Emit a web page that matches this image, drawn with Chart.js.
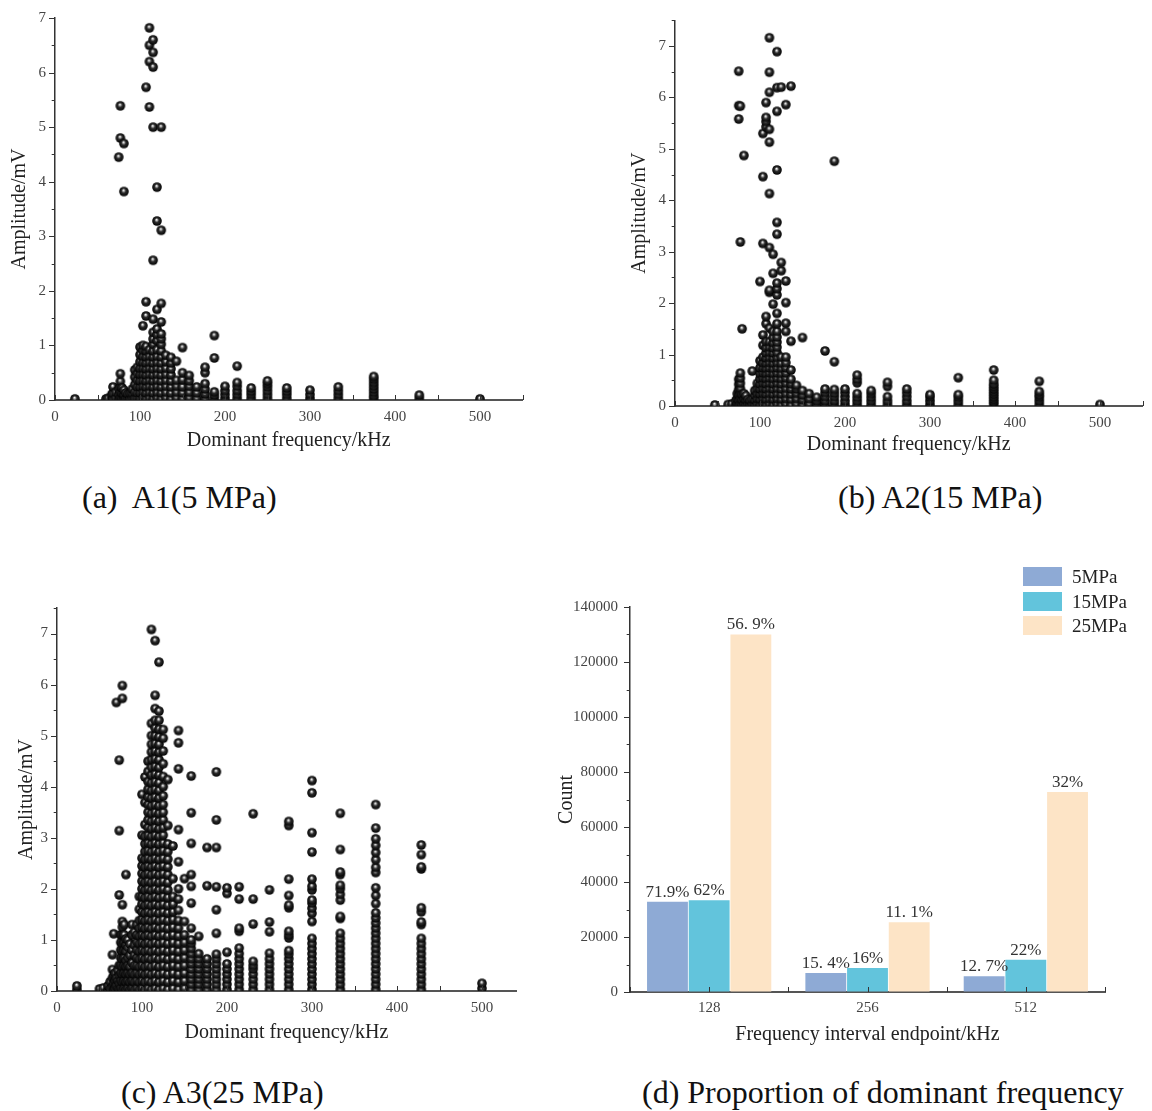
<!DOCTYPE html>
<html><head><meta charset="utf-8">
<script src="https://cdn.jsdelivr.net/npm/chart.js@4.4.1/dist/chart.umd.min.js"></script>
<style>
html,body{margin:0;padding:0;background:#fff;}
body{width:1152px;height:1111px;position:relative;overflow:hidden;font-family:'Liberation Serif','Times New Roman',serif;}
canvas{position:absolute;}
.cap{position:absolute;font-size:32px;line-height:32px;white-space:pre;color:#111;}
.leg{position:absolute;font-size:19px;line-height:19px;color:#222;}
.box{position:absolute;width:39px;height:19px;}
</style></head><body>
<canvas id="ca" width="540" height="470" style="left:0;top:0"></canvas>
<canvas id="cb" width="532" height="470" style="left:620px;top:0"></canvas>
<canvas id="cc" width="540" height="470" style="left:0;top:590px"></canvas>
<canvas id="cd" width="612" height="500" style="left:540px;top:560px"></canvas>

<div class="cap" style="left:82px;top:481px">(a)  A1(5 MPa)</div>
<div class="cap" style="left:838px;top:481px">(b) A2(15 MPa)</div>
<div class="cap" style="left:121px;top:1076px">(c) A3(25 MPa)</div>
<div class="cap" style="left:642px;top:1076px">(d) Proportion of dominant frequency</div>

<div class="box" style="left:1023px;top:567px;background:#8EAAD5"></div>
<div class="leg" style="left:1072px;top:567px">5MPa</div>
<div class="box" style="left:1023px;top:592px;background:#62C4DC"></div>
<div class="leg" style="left:1072px;top:592px">15MPa</div>
<div class="box" style="left:1023px;top:616px;background:#FDE4C6"></div>
<div class="leg" style="left:1072px;top:616px">25MPa</div>

<script>
// ---------------- DATA ----------------
const xTitle = 'Dominant frequency/kHz';
const yTitle = 'Amplitude/mV';

// Panel (a) A1 5 MPa : dominant frequency columns and amplitudes
const a1Freq = [23.4, 60, 62.5, 66.7, 68.2, 71.4, 75, 76.9, 78.9, 81.1, 83.3, 85.7, 88.2, 90.9, 93.8, 96.8, 100, 103.4, 107.1, 111.1, 115.4, 120, 125, 130.4, 136.4, 142.9, 150, 157.9, 166.7, 176.5, 187.5, 200, 214.3, 230.8, 250, 272.7, 300, 333.3, 375, 428.6, 500];
const a1Amp = [
  [0.02], [0.02], [0.03], [0.04,0.1], [0.03,0.12,0.24], [0.04,0.14],
  [0.03,0.1,0.2,4.45],
  [0.04,0.14,0.24,0.34,0.48,4.8,5.39],
  [0.03,0.12,0.22],
  [0.04,0.1,0.18,3.82,4.7],
  [0.03,0.13], [0.04,0.11], [0.03,0.12], [0.04,0.12,0.2],
  [0.03,0.14,0.28,0.42,0.55],
  [0.04,0.13,0.24,0.36,0.48,0.6],
  [0.03,0.13,0.24,0.35,0.47,0.58,0.7,0.83,0.97],
  [0.04,0.14,0.25,0.36,0.47,0.58,0.69,0.8,0.91,1.0,1.36],
  [0.03,0.13,0.24,0.35,0.46,0.57,0.68,0.79,0.9,0.98,1.54,1.8,5.73],
  [0.04,0.14,0.25,0.36,0.47,0.58,0.69,0.8,0.92,5.37,6.2,6.5,6.82],
  [0.03,0.13,0.24,0.35,0.46,0.57,0.68,0.79,0.9,1.02,1.12,1.24,1.48,2.56,5.0,6.1,6.37,6.6],
  [0.04,0.14,0.25,0.36,0.47,0.58,0.69,0.8,0.92,1.09,1.2,1.3,1.66,3.28,3.9],
  [0.03,0.13,0.24,0.35,0.46,0.57,0.68,0.79,0.9,1.02,1.12,1.21,1.43,1.77,3.11,5.0],
  [0.04,0.14,0.25,0.36,0.47,0.58,0.7,0.82],
  [0.03,0.13,0.24,0.35,0.46,0.57,0.68,0.78],
  [0.04,0.14,0.25,0.36,0.71],
  [0.03,0.13,0.24,0.37,0.5,0.96],
  [0.04,0.14,0.25,0.35,0.45],
  [0.03,0.13,0.24],
  [0.03,0.11,0.2,0.3,0.5,0.6],
  [0.03,0.09,0.15,0.77,1.18],
  [0.03,0.1,0.17,0.25],
  [0.03,0.1,0.17,0.25,0.32,0.62],
  [0.03,0.1,0.16,0.22],
  [0.03,0.1,0.17,0.24,0.3,0.35],
  [0.03,0.1,0.16,0.22],
  [0.03,0.1,0.18],
  [0.03,0.1,0.17,0.24],
  [0.03,0.08,0.14,0.2,0.26,0.32,0.38,0.43],
  [0.03,0.09],
  [0.02]
];

// Panel (b) A2 15 MPa
const a2Freq = [46.9, 62.5, 66.7, 71.4, 73.2, 75, 76.9, 78.9, 81.1, 83.3, 85.7, 88.2, 90.9, 93.8, 96.8, 100, 103.4, 107.1, 111.1, 115.4, 120, 125, 130.4, 136.4, 142.9, 150, 157.9, 166.7, 176.5, 187.5, 200, 214.3, 230.8, 250, 272.7, 300, 333.3, 375, 428.6, 500];
const a2Amp = [
  [0.02], [0.03], [0.04], [0.03,0.1], [0.04,0.14,0.24],
  [0.03,0.12,0.22,0.32,0.42,0.52,5.58,5.84,6.51],
  [0.04,0.14,0.24,0.34,0.44,0.54,0.64,3.19,5.83],
  [0.03,0.12,0.22,1.5],
  [0.04,0.14,0.24,4.87],
  [0.03,0.12,0.2], [0.04,0.13], [0.03,0.11], [0.04,0.13,0.68],
  [0.03,0.12,0.21,0.3],
  [0.04,0.14,0.24,0.34,0.44],
  [0.03,0.13,0.23,0.33,0.43,0.53,0.63,0.74,0.88,2.42],
  [0.04,0.14,0.24,0.34,0.44,0.54,0.64,0.74,0.84,0.95,1.18,1.38,3.16,4.46,5.3],
  [0.03,0.13,0.23,0.33,0.43,0.53,0.63,0.73,0.83,0.93,1.03,1.13,1.25,1.6,1.74,5.43,5.53,5.61,5.9],
  [0.04,0.14,0.24,0.34,0.44,0.54,0.64,0.74,0.84,0.94,1.04,1.14,1.25,1.51,2.21,2.25,3.08,4.13,5.13,5.38,6.1,6.49,7.16],
  [0.03,0.13,0.23,0.33,0.43,0.53,0.63,0.73,0.83,0.93,1.03,1.13,1.23,1.33,1.45,1.98,2.58,2.95],
  [0.04,0.14,0.24,0.34,0.44,0.54,0.64,0.74,0.84,0.94,1.04,1.14,1.24,1.34,1.45,1.6,1.8,2.16,2.28,2.39,3.34,3.57,4.59,5.73,6.19,6.89],
  [0.03,0.13,0.23,0.33,0.43,0.53,0.63,0.73,0.83,0.95,2.63,2.79,6.2],
  [0.04,0.14,0.24,0.34,0.44,0.54,0.64,0.74,0.84,0.95,1.45,1.61,2.01,2.43,5.86],
  [0.03,0.13,0.23,0.33,0.43,0.52,0.7,1.26,6.22],
  [0.04,0.14,0.24,0.33,0.4],
  [0.03,0.12,0.21,0.3,1.33],
  [0.04,0.14,0.24],
  [0.03,0.1,0.17],
  [0.03,0.1,0.18,0.26,0.33,1.07],
  [0.03,0.1,0.18,0.25,0.32,0.86,4.76],
  [0.03,0.1,0.18,0.26,0.33],
  [0.03,0.1,0.17,0.24,0.45,0.52,0.6],
  [0.03,0.1,0.17,0.24,0.3],
  [0.03,0.1,0.18,0.38,0.46],
  [0.03,0.1,0.18,0.26,0.33],
  [0.03,0.1,0.17,0.22],
  [0.03,0.1,0.17,0.22,0.55],
  [0.03,0.08,0.13,0.18,0.23,0.28,0.33,0.38,0.43,0.5,0.7],
  [0.03,0.1,0.17,0.22,0.28,0.48],
  [0.03]
];

// Panel (c) A3 25 MPa
const a3Freq = [23.4, 50, 54.5, 60, 62.5, 65.2, 66.7, 68.2, 69.8, 71.4, 73.2, 75, 76.9, 78.9, 81.1, 83.3, 85.7, 88.2, 90.9, 93.8, 96.8, 100, 103.4, 107.1, 111.1, 115.4, 120, 125, 130.4, 136.4, 142.9, 150, 157.9, 166.7, 176.5, 187.5, 200, 214.3, 230.8, 250, 272.7, 300, 333.3, 375, 428.6, 500];
const a3Amp = [
  [0.03,0.1], [0.04], [0.06], [0.03,0.1], [0.05,0.18],
  [0.08,0.25,0.42,0.71],
  [0.03,0.15,0.3,1.12],
  [0.05,0.2,0.35],
  [0.1,0.25,5.65],
  [0.05,0.2,0.4],
  [0.03,0.15,0.3,0.5,1.88,3.14,4.52],
  [0.05,0.2,0.35,0.5,0.65,0.8,0.95,1.1],
  [0.03,0.18,0.33,0.48,0.63,0.78,0.93,1.1,1.25,1.36,1.69,5.73,5.98],
  [0.05,0.2,0.35,0.5,0.65,0.8,0.95,1.1,1.3],
  [0.03,0.18,0.33,0.48,0.6,0.78,0.9,1.02,2.28],
  [0.05,0.2,0.35,0.5,0.65,0.85,1.0],
  [0.03,0.18,0.33,0.48,0.7,0.92],
  [0.05,0.2,0.35,0.55,0.8,1.1,1.3],
  [0.03,0.18,0.33,0.5,0.7,0.9,1.15],
  [0.05,0.2,0.35,0.5,0.65,0.8,0.95,1.1,1.3],
  [0.03,0.18,0.33,0.48,0.63,0.78,0.93,1.08,1.23,1.38,1.6,1.85],
  [0.05,0.2,0.35,0.5,0.65,0.8,0.95,1.1,1.25,1.4,1.55,1.7,1.85,2.0,2.15,2.3,2.45,2.6,3.05,3.85],
  [0.03,0.18,0.33,0.48,0.63,0.78,0.93,1.08,1.23,1.38,1.53,1.68,1.83,1.98,2.13,2.28,2.43,2.58,2.73,2.88,3.03,3.26,3.69,4.19],
  [0.05,0.2,0.35,0.5,0.65,0.8,0.95,1.1,1.25,1.4,1.55,1.7,1.85,2.0,2.15,2.3,2.45,2.6,2.75,2.9,3.05,3.2,3.35,3.5,3.65,3.8,3.95,4.1,4.3,4.5],
  [0.03,0.18,0.33,0.48,0.63,0.78,0.93,1.08,1.23,1.38,1.53,1.68,1.83,1.98,2.13,2.28,2.43,2.58,2.73,2.88,3.03,3.18,3.33,3.48,3.63,3.78,3.93,4.08,4.23,4.38,4.53,4.68,4.83,5.0,5.24,7.08],
  [0.05,0.2,0.35,0.5,0.65,0.8,0.95,1.1,1.25,1.4,1.55,1.7,1.85,2.0,2.15,2.3,2.45,2.6,2.75,2.9,3.05,3.2,3.35,3.5,3.65,3.8,3.95,4.1,4.25,4.4,4.55,4.7,4.85,5.0,5.15,5.3,5.53,5.79,6.86],
  [0.03,0.18,0.33,0.48,0.63,0.78,0.93,1.08,1.23,1.38,1.53,1.68,1.83,1.98,2.13,2.28,2.43,2.58,2.73,2.88,3.03,3.18,3.33,3.48,3.63,3.78,3.93,4.08,4.23,4.38,4.53,4.68,4.83,4.98,5.13,5.3,5.48,6.44],
  [0.05,0.2,0.35,0.5,0.65,0.8,0.95,1.1,1.25,1.4,1.55,1.7,1.85,2.0,2.15,2.3,2.45,2.6,2.75,2.9,3.05,3.2,3.35,3.5,3.65,3.82,4.0,4.2,4.45,4.7,4.95,5.12],
  [0.03,0.18,0.33,0.48,0.63,0.78,0.93,1.08,1.23,1.38,1.53,1.68,1.83,1.98,2.13,2.28,2.43,2.58,2.73,2.88,3.24,4.14],
  [0.05,0.2,0.35,0.5,0.65,0.8,0.95,1.1,1.25,1.4,1.55,1.7,1.85,2.2,2.84],
  [0.03,0.18,0.33,0.48,0.63,0.78,0.93,1.08,1.23,1.38,1.58,1.8,2.0,2.53,3.16,4.35,4.86,5.1],
  [0.05,0.2,0.35,0.5,0.65,0.8,0.95,1.1,1.36,2.2],
  [0.03,0.13,0.23,0.33,0.43,0.53,0.63,0.73,0.83,0.93,1.0,1.23,1.72,2.05,2.28,2.89,3.49,4.21],
  [0.03,0.13,0.23,0.33,0.43,0.53,0.63,0.73,1.07],
  [0.03,0.13,0.23,0.33,0.43,0.53,0.63,2.06,2.81],
  [0.03,0.13,0.23,0.33,0.43,0.53,0.63,0.72,1.13,1.59,2.04,2.81,3.35,4.29],
  [0.03,0.13,0.23,0.33,0.43,0.53,0.76,1.91,2.02],
  [0.03,0.13,0.23,0.33,0.43,0.53,0.63,0.73,0.84,1.17,1.23,1.8,2.04],
  [0.03,0.13,0.23,0.33,0.43,0.5,0.58,1.31,1.8,3.47],
  [0.03,0.13,0.23,0.33,0.43,0.53,0.63,0.74,1.16,1.35,1.98],
  [0.03,0.13,0.23,0.33,0.43,0.53,0.63,0.72,0.79,1.04,1.1,1.17,1.63,1.68,1.87,2.19,3.24,3.32],
  [0.03,0.13,0.23,0.33,0.43,0.53,0.63,0.73,0.83,0.93,1.03,1.36,1.52,1.62,1.72,1.78,1.98,2.05,2.19,2.72,3.1,3.88,4.12],
  [0.03,0.13,0.23,0.33,0.43,0.53,0.63,0.73,0.83,0.93,1.03,1.13,1.42,1.46,1.78,1.89,2.0,2.07,2.28,2.33,2.77,3.48],
  [0.03,0.13,0.23,0.33,0.43,0.53,0.63,0.73,0.83,0.93,1.03,1.13,1.23,1.33,1.43,1.53,1.71,1.87,2.02,2.32,2.42,2.57,2.71,2.85,2.98,3.19,3.65],
  [0.03,0.13,0.23,0.33,0.43,0.53,0.63,0.73,0.83,0.93,1.03,1.3,1.35,1.55,1.63,2.39,2.43,2.67,2.86],
  [0.05,0.15]
];

// Panel (d) counts per frequency interval
const intervalLabels = ['128', '256', '512'];
const count5MPa  = [32800, 6900, 5700];
const count15MPa = [33400, 8700, 11700];
const count25MPa = [130000, 25400, 72700];
const pct5MPa  = ['71.9%', '15. 4%', '12. 7%'];
const pct15MPa = ['62%', '16%', '22%'];
const pct25MPa = ['56. 9%', '11. 1%', '32%'];

// ---------------- DRAWING ----------------
Chart.defaults.font.family = "'Liberation Serif','Times New Roman',serif";

function makeBall(r) {
  const s = Math.ceil(2 * r + 2);
  const c = document.createElement('canvas');
  c.width = s; c.height = s;
  const g = c.getContext('2d');
  const cx = s / 2, cy = s / 2;
  const grad = g.createRadialGradient(cx - r * 0.1, cy - r * 0.3, 0, cx, cy, r);
  grad.addColorStop(0, '#ffffff');
  grad.addColorStop(0.18, '#bdbdbd');
  grad.addColorStop(0.45, '#2e2e2e');
  grad.addColorStop(1, '#000000');
  g.fillStyle = grad;
  g.beginPath(); g.arc(cx, cy, r, 0, Math.PI * 2); g.fill();
  return c;
}
const ball = makeBall(4.8);

function buildPoints(freqs, amps) {
  const pts = [];
  freqs.forEach((f, i) => amps[i].forEach(a => pts.push({x: f, y: a})));
  return pts;
}

const axisTicks = {
  id: 'axisTicks',
  afterDraw(chart, args, o) {
    const ctx = chart.ctx, a = chart.chartArea, xs = chart.scales.x, ys = chart.scales.y;
    ctx.save();
    ctx.strokeStyle = o.color || '#333';
    ctx.lineWidth = 1;
    ctx.beginPath();
    const xv = o.xValues ? o.xValues : xs.ticks.map(t => t.value);
    xv.forEach(v => {
      const px = Math.round(xs.getPixelForValue(v)) + 0.5;
      ctx.moveTo(px, a.bottom); ctx.lineTo(px, a.bottom - o.xLen);
    });
    ys.ticks.forEach(t => {
      const py = Math.round(ys.getPixelForValue(t.value)) + 0.5;
      const q = t.value / o.yMajor;
      const major = Math.abs(q - Math.round(q)) < 1e-6;
      const len = major ? o.yLen : o.yLen * 0.55;
      ctx.moveTo(a.left, py); ctx.lineTo(a.left - len, py);
    });
    ctx.stroke();
    ctx.restore();
  }
};

function scatterChart(id, freqs, amps, o) {
  return new Chart(document.getElementById(id), {
    type: 'scatter',
    data: { datasets: [{ data: buildPoints(freqs, amps), pointStyle: ball, pointRadius: 4.8, pointHoverRadius: 4.8, backgroundColor: '#000', borderWidth: 0 }] },
    options: {
      responsive: false, animation: false, devicePixelRatio: 1, events: [],
      layout: { padding: o.pad },
      plugins: { legend: { display: false }, tooltip: { enabled: false },
        axisTicks: { xLen: 5, yLen: 6, yMajor: 1, color: '#333' } },
      scales: {
        x: {
          type: 'linear', min: 0, max: o.xMax,
          afterFit: s => { s.height = o.xH; },
          afterBuildTicks: s => { s.ticks = s.ticks.filter(t => t.value % 50 === 0); },
          grid: { display: true, drawOnChartArea: false, drawTicks: false },
          border: { display: true, color: '#555', width: 2 },
          ticks: { stepSize: 50, includeBounds: false, maxTicksLimit: 100, autoSkip: false, maxRotation: 0, padding: o.xTickPad, color: '#444', font: { size: 15 },
            callback: v => (v % 100 === 0 ? String(v) : '') },
          title: { display: true, text: xTitle, color: '#222', font: { size: 20 }, padding: { top: 0, bottom: o.xTitlePad } }
        },
        y: {
          type: 'linear', min: 0, max: o.yMax,
          afterFit: s => { s.width = o.yW; },
          grid: { display: true, drawOnChartArea: false, drawTicks: false },
          border: { display: true, color: '#333', width: 1.5 },
          ticks: { stepSize: 0.5, maxTicksLimit: 100, autoSkip: false, padding: 9, color: '#444', font: { size: 15 },
            callback: v => (Math.abs(v - Math.round(v)) < 1e-6 ? String(Math.round(v)) : '') },
          title: { display: true, text: yTitle, color: '#222', font: { size: 20 }, padding: { top: o.yTitlePad, bottom: 0 } }
        }
      }
    },
    plugins: [axisTicks]
  });
}

scatterChart('ca', a1Freq, a1Amp, { pad: { left: 0, top: 14, right: 17.5, bottom: 0 }, xMax: 550, yMax: 7, xH: 70, yW: 55, xTickPad: 8, xTitlePad: 17, yTitlePad: 8 });
scatterChart('cb', a2Freq, a2Amp, { pad: { left: 0, top: 20.3, right: 9.5, bottom: 0 }, xMax: 550, yMax: 7.5, xH: 64, yW: 55, xTickPad: 8, xTitlePad: 13, yTitlePad: 8 });
scatterChart('cc', a3Freq, a3Amp, { pad: { left: 0, top: 15.5, right: 24, bottom: 0 }, xMax: 540, yMax: 7.5, xH: 69, yW: 57, xTickPad: 8, xTitlePad: 15, yTitlePad: 15 });

const barLabels = {
  id: 'barLabels',
  afterDatasetsDraw(chart, args, o) {
    const ctx = chart.ctx;
    ctx.save();
    ctx.font = "17px 'Liberation Serif','Times New Roman',serif";
    ctx.fillStyle = '#333';
    ctx.textAlign = 'center';
    ctx.textBaseline = 'bottom';
    chart.data.datasets.forEach((ds, i) => {
      chart.getDatasetMeta(i).data.forEach((el, j) => {
        ctx.fillText(o.labels[i][j], el.x, el.y - 1);
      });
    });
    ctx.restore();
  }
};

new Chart(document.getElementById('cd'), {
  type: 'bar',
  data: {
    labels: intervalLabels,
    datasets: [
      { label: '5MPa', data: count5MPa, backgroundColor: '#8EAAD5' },
      { label: '15MPa', data: count15MPa, backgroundColor: '#62C4DC' },
      { label: '25MPa', data: count25MPa, backgroundColor: '#FDE4C6' }
    ]
  },
  options: {
    responsive: false, animation: false, devicePixelRatio: 1, events: [],
    layout: { padding: { left: 0, top: 47, right: 47, bottom: 0 } },
    datasets: { bar: { categoryPercentage: 0.79, barPercentage: 0.98, borderWidth: 0 } },
    plugins: { legend: { display: false }, tooltip: { enabled: false },
      barLabels: { labels: [pct5MPa, pct15MPa, pct25MPa] },
      axisTicks: { xLen: 5, yLen: 6, yMajor: 20000, color: '#333', xValues: [-0.5, 0, 0.5, 1, 1.5, 2, 2.5] } },
    scales: {
      x: {
        afterFit: s => { s.height = 68; },
        grid: { display: true, drawOnChartArea: false, drawTicks: false },
        border: { display: true, color: '#555', width: 2 },
        ticks: { padding: 7, color: '#444', font: { size: 15 } },
        title: { display: true, text: 'Frequency interval endpoint/kHz', color: '#222', font: { size: 20 }, padding: { top: 0, bottom: 13 } }
      },
      y: {
        min: 0, max: 140000,
        afterFit: s => { s.width = 90; },
        grid: { display: true, drawOnChartArea: false, drawTicks: false },
        border: { display: true, color: '#333', width: 1.5 },
        ticks: { stepSize: 10000, maxTicksLimit: 100, autoSkip: false, padding: 12, color: '#444', font: { size: 15 },
          callback: v => (v % 20000 === 0 ? String(v) : '') },
        title: { display: true, text: 'Count', color: '#222', font: { size: 20 }, padding: { top: 15, bottom: 0 } }
      }
    }
  },
  plugins: [barLabels, axisTicks]
});
</script>
</body></html>
